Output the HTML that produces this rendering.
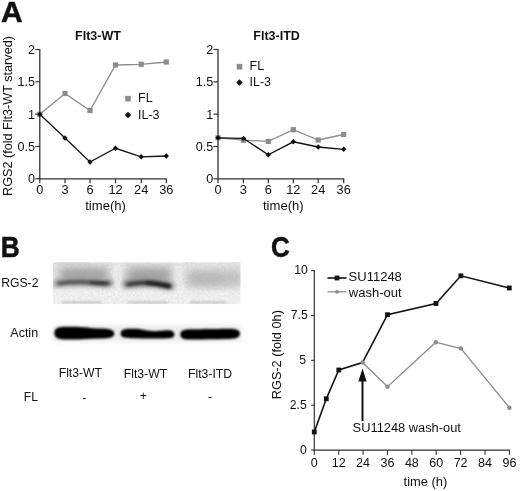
<!DOCTYPE html>
<html><head><meta charset="utf-8"><title>Figure</title>
<style>
html,body{margin:0;padding:0;background:#fff;}
body{width:520px;height:491px;overflow:hidden;}
svg{display:block;}
text{font-family:"Liberation Sans",Arial,Helvetica,sans-serif;fill:#111;}
.b{font-weight:bold;}
</style></head><body>
<svg width="520" height="491" viewBox="0 0 520 491">
<defs>
<filter id="f07" filterUnits="userSpaceOnUse" x="40" y="250" width="215" height="105"><feGaussianBlur stdDeviation="0.7"/></filter>
<filter id="f12" filterUnits="userSpaceOnUse" x="40" y="250" width="215" height="105"><feGaussianBlur stdDeviation="1.2"/></filter>
<filter id="f25" filterUnits="userSpaceOnUse" x="40" y="250" width="215" height="105"><feGaussianBlur stdDeviation="2.5"/></filter>
<filter id="f4" filterUnits="userSpaceOnUse" x="40" y="250" width="215" height="105"><feGaussianBlur stdDeviation="4"/></filter>
<filter id="f15" filterUnits="userSpaceOnUse" x="40" y="250" width="215" height="105"><feGaussianBlur stdDeviation="1.5"/></filter>
<filter id="noise" filterUnits="userSpaceOnUse" x="40" y="250" width="215" height="105"><feTurbulence type="fractalNoise" baseFrequency="0.45" numOctaves="2" seed="7" result="n"/><feColorMatrix type="matrix" values="0 0 0 0 0.25  0 0 0 0 0.25  0 0 0 0 0.25  0.9 0.9 0 0 -0.6"/><feGaussianBlur stdDeviation="0.6"/></filter>
<mask id="mk1" maskUnits="userSpaceOnUse" x="40" y="250" width="215" height="70"><rect x="53" y="262.3" width="187.5" height="41.8" fill="#fff" filter="url(#f07)"/></mask>
<linearGradient id="bg1" x1="0" y1="0" x2="0" y2="1">
<stop offset="0" stop-color="#e2e2e2"/><stop offset="0.06" stop-color="#e9e9e9"/><stop offset="0.5" stop-color="#e9e9e9"/><stop offset="0.68" stop-color="#f6f6f6"/><stop offset="0.93" stop-color="#f5f5f5"/><stop offset="1" stop-color="#ececec"/>
</linearGradient>
</defs>
<rect width="520" height="491" fill="#fff"/>

<text class="b" x="0.9" y="21.5" font-size="30" stroke="#111" stroke-width="0.5">A</text>
<text class="b" transform="translate(0.7,256.6) scale(0.905,1)" font-size="29" stroke="#111" stroke-width="0.5">B</text>
<text class="b" transform="translate(271.1,256.9) scale(0.88,1.02)" font-size="29.6" stroke="#111" stroke-width="0.5">C</text>
<path d="M39.8,49.0V178.8H166.8" fill="none" stroke="#333" stroke-width="1.3"/>
<path d="M35.3,178.80H39.8" stroke="#333" stroke-width="1.2"/>
<text x="35.099999999999994" y="183.30" font-size="12.6" text-anchor="end">0</text>
<path d="M35.3,146.48H39.8" stroke="#333" stroke-width="1.2"/>
<text x="35.099999999999994" y="150.98" font-size="12.6" text-anchor="end">0.5</text>
<path d="M35.3,114.15H39.8" stroke="#333" stroke-width="1.2"/>
<text x="35.099999999999994" y="118.65" font-size="12.6" text-anchor="end">1</text>
<path d="M35.3,81.83H39.8" stroke="#333" stroke-width="1.2"/>
<text x="35.099999999999994" y="86.33" font-size="12.6" text-anchor="end">1.5</text>
<path d="M35.3,49.50H39.8" stroke="#333" stroke-width="1.2"/>
<text x="35.099999999999994" y="54.00" font-size="12.6" text-anchor="end">2</text>
<path d="M39.8,178.8V183.3" stroke="#333" stroke-width="1.2"/>
<text x="39.8" y="194.30" font-size="12.8" text-anchor="middle">0</text>
<path d="M65,178.8V183.3" stroke="#333" stroke-width="1.2"/>
<text x="65" y="194.30" font-size="12.8" text-anchor="middle">3</text>
<path d="M90,178.8V183.3" stroke="#333" stroke-width="1.2"/>
<text x="90" y="194.30" font-size="12.8" text-anchor="middle">6</text>
<path d="M115.5,178.8V183.3" stroke="#333" stroke-width="1.2"/>
<text x="115.5" y="194.30" font-size="12.8" text-anchor="middle">12</text>
<path d="M141.2,178.8V183.3" stroke="#333" stroke-width="1.2"/>
<text x="141.2" y="194.30" font-size="12.8" text-anchor="middle">24</text>
<path d="M166.3,178.8V183.3" stroke="#333" stroke-width="1.2"/>
<text x="166.3" y="194.30" font-size="12.8" text-anchor="middle">36</text>
<text x="105.55" y="210.4" font-size="13.1" text-anchor="middle">time(h)</text>
<text class="b" x="98" y="39.5" font-size="12.5" text-anchor="middle">Flt3-WT</text>
<polyline points="39.8,114.3 65,93.5 90,110.5 115.5,65 141.2,64.3 166.3,62" fill="none" stroke="#8c8c8c" stroke-width="1.3"/>
<rect x="37.199999999999996" y="111.70" width="5.2" height="5.2" fill="#8c8c8c"/>
<rect x="62.4" y="90.90" width="5.2" height="5.2" fill="#8c8c8c"/>
<rect x="87.4" y="107.90" width="5.2" height="5.2" fill="#8c8c8c"/>
<rect x="112.9" y="62.40" width="5.2" height="5.2" fill="#8c8c8c"/>
<rect x="138.6" y="61.70" width="5.2" height="5.2" fill="#8c8c8c"/>
<rect x="163.70000000000002" y="59.40" width="5.2" height="5.2" fill="#8c8c8c"/>
<polyline points="39.8,114.3 65,138 90,162 115.5,148.3 141.2,156.8 166.3,156" fill="none" stroke="#111" stroke-width="1.3"/>
<path d="M39.8,111.60L42.5,114.3L39.8,117.00L37.099999999999994,114.3Z" fill="#111"/>
<path d="M65,135.30L67.7,138L65,140.70L62.3,138Z" fill="#111"/>
<path d="M90,159.30L92.7,162L90,164.70L87.3,162Z" fill="#111"/>
<path d="M115.5,145.60L118.2,148.3L115.5,151.00L112.8,148.3Z" fill="#111"/>
<path d="M141.2,154.10L143.89999999999998,156.8L141.2,159.50L138.5,156.8Z" fill="#111"/>
<path d="M166.3,153.30L169.0,156L166.3,158.70L163.60000000000002,156Z" fill="#111"/>
<rect x="125.2" y="95.90" width="5.6" height="5.6" fill="#8c8c8c"/>
<text x="138" y="102.10" font-size="12.5">FL</text>
<path d="M128,111.80L131.2,115L128,118.20L124.8,115Z" fill="#111"/>
<text x="138" y="118.90" font-size="12.5">IL-3</text>
<path d="M218,49.0V178.8H344.2" fill="none" stroke="#333" stroke-width="1.3"/>
<path d="M213.5,178.80H218" stroke="#333" stroke-width="1.2"/>
<text x="213.3" y="183.30" font-size="12.6" text-anchor="end">0</text>
<path d="M213.5,146.48H218" stroke="#333" stroke-width="1.2"/>
<text x="213.3" y="150.98" font-size="12.6" text-anchor="end">0.5</text>
<path d="M213.5,114.15H218" stroke="#333" stroke-width="1.2"/>
<text x="213.3" y="118.65" font-size="12.6" text-anchor="end">1</text>
<path d="M213.5,81.83H218" stroke="#333" stroke-width="1.2"/>
<text x="213.3" y="86.33" font-size="12.6" text-anchor="end">1.5</text>
<path d="M213.5,49.50H218" stroke="#333" stroke-width="1.2"/>
<text x="213.3" y="54.00" font-size="12.6" text-anchor="end">2</text>
<path d="M218,178.8V183.3" stroke="#333" stroke-width="1.2"/>
<text x="218" y="194.30" font-size="12.8" text-anchor="middle">0</text>
<path d="M243.4,178.8V183.3" stroke="#333" stroke-width="1.2"/>
<text x="243.4" y="194.30" font-size="12.8" text-anchor="middle">3</text>
<path d="M268.3,178.8V183.3" stroke="#333" stroke-width="1.2"/>
<text x="268.3" y="194.30" font-size="12.8" text-anchor="middle">6</text>
<path d="M293.3,178.8V183.3" stroke="#333" stroke-width="1.2"/>
<text x="293.3" y="194.30" font-size="12.8" text-anchor="middle">12</text>
<path d="M318.2,178.8V183.3" stroke="#333" stroke-width="1.2"/>
<text x="318.2" y="194.30" font-size="12.8" text-anchor="middle">24</text>
<path d="M343.7,178.8V183.3" stroke="#333" stroke-width="1.2"/>
<text x="343.7" y="194.30" font-size="12.8" text-anchor="middle">36</text>
<text x="283.35" y="210.4" font-size="13.1" text-anchor="middle">time(h)</text>
<text class="b" x="276.6" y="39.5" font-size="12.5" text-anchor="middle">Flt3-ITD</text>
<polyline points="218,137.8 243.4,140.2 268.3,141.4 293.3,129.7 318.2,140 343.7,134.5" fill="none" stroke="#8c8c8c" stroke-width="1.3"/>
<rect x="215.4" y="135.20" width="5.2" height="5.2" fill="#8c8c8c"/>
<rect x="240.8" y="137.60" width="5.2" height="5.2" fill="#8c8c8c"/>
<rect x="265.7" y="138.80" width="5.2" height="5.2" fill="#8c8c8c"/>
<rect x="290.7" y="127.10" width="5.2" height="5.2" fill="#8c8c8c"/>
<rect x="315.59999999999997" y="137.40" width="5.2" height="5.2" fill="#8c8c8c"/>
<rect x="341.09999999999997" y="131.90" width="5.2" height="5.2" fill="#8c8c8c"/>
<polyline points="218,137.8 243.4,138.4 268.3,154.8 293.3,141.8 318.2,147 343.7,149.3" fill="none" stroke="#111" stroke-width="1.3"/>
<path d="M218,135.10L220.7,137.8L218,140.50L215.3,137.8Z" fill="#111"/>
<path d="M243.4,135.70L246.1,138.4L243.4,141.10L240.70000000000002,138.4Z" fill="#111"/>
<path d="M268.3,152.10L271.0,154.8L268.3,157.50L265.6,154.8Z" fill="#111"/>
<path d="M293.3,139.10L296.0,141.8L293.3,144.50L290.6,141.8Z" fill="#111"/>
<path d="M318.2,144.30L320.9,147L318.2,149.70L315.5,147Z" fill="#111"/>
<path d="M343.7,146.60L346.4,149.3L343.7,152.00L341.0,149.3Z" fill="#111"/>
<rect x="236.7" y="63.90" width="5.6" height="5.6" fill="#8c8c8c"/>
<text x="249.5" y="70.10" font-size="12.5">FL</text>
<path d="M239.5,79.30L242.7,82.5L239.5,85.70L236.3,82.5Z" fill="#111"/>
<text x="249.5" y="86.40" font-size="12.5">IL-3</text>
<text transform="translate(12.1,196) rotate(-90)" font-size="12.65">RGS2 (fold Flt3-WT starved)</text>
<text x="1.2" y="287.2" font-size="12.2">RGS-2</text>
<text x="10.3" y="337.2" font-size="12.5">Actin</text>
<text x="58.7" y="377.2" font-size="12.2">Flt3-WT</text>
<text x="123.8" y="378.3" font-size="12.2">Flt3-WT</text>
<text x="188" y="378.3" font-size="12.2">Flt3-ITD</text>
<text x="23.8" y="400.6" font-size="12">FL</text>
<text x="82.3" y="401.5" font-size="12">-</text>
<text x="139.8" y="400" font-size="12">+</text>
<text x="208" y="400.6" font-size="12">-</text>
<g mask="url(#mk1)">
<rect x="50" y="259" width="194" height="48" fill="url(#bg1)"/>
<rect x="60" y="268" width="48" height="13" fill="#909090" opacity="0.8" filter="url(#f4)"/>
<rect x="127" y="268" width="44" height="14" fill="#909090" opacity="0.8" filter="url(#f4)"/>
<rect x="187" y="270" width="54" height="17" fill="#bdbdbd" opacity="0.85" filter="url(#f4)"/>
<rect x="190" y="274" width="30" height="10" fill="#b0b0b0" opacity="0.5" filter="url(#f4)"/>
<rect x="113.5" y="264" width="7" height="34" fill="#f6f6f6" opacity="0.9" filter="url(#f25)"/>
<rect x="175.5" y="264" width="6" height="34" fill="#f6f6f6" opacity="0.9" filter="url(#f25)"/>
<path d="M55,262.8H90" stroke="#c8c8c8" stroke-width="1.4" filter="url(#f12)"/>
<path d="M62,302.4H101M128,302.4H168M190,302.4H226" stroke="#bcbcbc" stroke-width="1.6" filter="url(#f12)"/>
<rect x="50" y="259" width="194" height="48" filter="url(#noise)" opacity="0.22"/>
<path d="M57,283.5 C70,281.4 84,281.6 96,282.8 S106,283.4 110,283.2" stroke="#808080" stroke-width="6.5" fill="none" stroke-linecap="round" filter="url(#f25)"/>
<path d="M59,283.4 C70,281.6 84,281.7 96,282.8 S104,283.3 108.5,283.1" stroke="#484848" stroke-width="2.8" fill="none" stroke-linecap="round" filter="url(#f15)"/>
<path d="M91,282.6 L106,283.3" stroke="#2c2c2c" stroke-width="2.4" fill="none" stroke-linecap="round" filter="url(#f15)"/>
<path d="M126.5,284.3 C136,282.6 150,282 160,284 S168,286 170.5,286.3" stroke="#787878" stroke-width="7.5" fill="none" stroke-linecap="round" filter="url(#f25)"/>
<path d="M128,284.3 C137,282.7 150,282.2 160,284.1 S167,286 169.5,286.2" stroke="#333" stroke-width="3.4" fill="none" stroke-linecap="round" filter="url(#f15)"/>
<path d="M148,283 C158,283.6 164,285.2 168.5,286.1" stroke="#1c1c1c" stroke-width="3.2" fill="none" stroke-linecap="round" filter="url(#f15)"/>
</g>
<g>
<rect x="53" y="325" width="188" height="17" fill="#ececec" filter="url(#f25)"/>
<path d="M54.3,333 C54.3,326.6 61,326.7 72,326.7 C84,326.7 92,328.3 101,328.5 C110,328.6 114.3,330 114.3,333.5 C114.3,337.4 110,338.3 100,338.6 C90,338.9 82,339.6 72,339.6 C61,339.6 54.3,339.4 54.3,333Z" fill="#040404" filter="url(#f12)"/>
<path d="M120.6,333.6 C120.6,328.7 126,328.8 134,328.8 C142,328.8 146,330.8 152,331.1 C158,331.3 162,330.3 167,330.3 C172,330.3 174.4,331.8 174.4,334.5 C174.4,337.7 171,338.4 165,338.4 C155,338.5 145,338.5 134,338.3 C126,338.2 120.6,338.3 120.6,333.6Z" fill="#060606" filter="url(#f12)"/>
<path d="M180.3,334.4 C180.3,329.2 186,329.2 195,329.2 C208,329.2 220,328.8 229,328.8 C236,328.8 240,330 240,333.6 C240,338.2 235,338.9 226,339.1 C214,339.4 204,339.5 194,339.5 C185,339.5 180.3,339.3 180.3,334.4Z" fill="#040404" filter="url(#f12)"/>
</g>
<path d="M314.3,270.10V450.1H509.90" fill="none" stroke="#333" stroke-width="1.2"/>
<path d="M311.1,450.10H314.3" stroke="#333" stroke-width="1.1"/>
<text x="306.90" y="453.90" font-size="12.2" text-anchor="end">0</text>
<path d="M311.1,405.23H314.3" stroke="#333" stroke-width="1.1"/>
<text x="306.80" y="409.03" font-size="12.2" text-anchor="end">2.5</text>
<path d="M311.1,360.35H314.3" stroke="#333" stroke-width="1.1"/>
<text x="306.10" y="364.15" font-size="12.2" text-anchor="end">5</text>
<path d="M311.1,315.48H314.3" stroke="#333" stroke-width="1.1"/>
<text x="307.70" y="319.28" font-size="12.2" text-anchor="end">7.5</text>
<path d="M311.1,270.60H314.3" stroke="#333" stroke-width="1.1"/>
<text x="307.70" y="274.40" font-size="12.2" text-anchor="end">10</text>
<path d="M314.30,450.1V454.8" stroke="#333" stroke-width="1.1"/>
<text x="314.30" y="467.00" font-size="12.5" text-anchor="middle">0</text>
<path d="M338.69,450.1V454.8" stroke="#333" stroke-width="1.1"/>
<text x="338.69" y="467.00" font-size="12.5" text-anchor="middle">12</text>
<path d="M363.07,450.1V454.8" stroke="#333" stroke-width="1.1"/>
<text x="363.07" y="467.00" font-size="12.5" text-anchor="middle">24</text>
<path d="M387.46,450.1V454.8" stroke="#333" stroke-width="1.1"/>
<text x="387.46" y="467.00" font-size="12.5" text-anchor="middle">36</text>
<path d="M411.85,450.1V454.8" stroke="#333" stroke-width="1.1"/>
<text x="411.85" y="467.00" font-size="12.5" text-anchor="middle">48</text>
<path d="M436.24,450.1V454.8" stroke="#333" stroke-width="1.1"/>
<text x="436.24" y="467.00" font-size="12.5" text-anchor="middle">60</text>
<path d="M460.62,450.1V454.8" stroke="#333" stroke-width="1.1"/>
<text x="460.62" y="467.00" font-size="12.5" text-anchor="middle">72</text>
<path d="M485.01,450.1V454.8" stroke="#333" stroke-width="1.1"/>
<text x="485.01" y="467.00" font-size="12.5" text-anchor="middle">84</text>
<path d="M509.40,450.1V454.8" stroke="#333" stroke-width="1.1"/>
<text x="509.40" y="467.00" font-size="12.5" text-anchor="middle">96</text>
<text x="425.4" y="485.8" font-size="12.9" text-anchor="middle">time (h)</text>
<text transform="translate(280.9,399.2) rotate(-90)" font-size="12.72">RGS-2 (fold 0h)</text>
<polyline points="362.5,362.5 387.5,386.7 435.8,342.2 461,348.5 509.4,407.7" fill="none" stroke="#8c8c8c" stroke-width="1.3"/>
<polyline points="314.3,432 326.3,398.8 338.8,370 362.5,362.5 387.5,314.7 436,303.5 460.9,275.8 509.3,288" fill="none" stroke="#111" stroke-width="1.6"/>
<rect x="311.90" y="429.60" width="4.8" height="4.8" fill="#111"/>
<rect x="323.90" y="396.40" width="4.8" height="4.8" fill="#111"/>
<rect x="336.40" y="367.60" width="4.8" height="4.8" fill="#111"/>
<rect x="385.10" y="312.30" width="4.8" height="4.8" fill="#111"/>
<rect x="433.60" y="301.10" width="4.8" height="4.8" fill="#111"/>
<rect x="458.50" y="273.40" width="4.8" height="4.8" fill="#111"/>
<rect x="506.90" y="285.60" width="4.8" height="4.8" fill="#111"/>
<circle cx="362.5" cy="362.5" r="2.2" fill="#8c8c8c"/>
<circle cx="387.5" cy="386.7" r="2.2" fill="#8c8c8c"/>
<circle cx="435.8" cy="342.2" r="2.2" fill="#8c8c8c"/>
<circle cx="461" cy="348.5" r="2.2" fill="#8c8c8c"/>
<circle cx="509.4" cy="407.7" r="2.2" fill="#8c8c8c"/>
<path d="M327.5,278H346.5" stroke="#111" stroke-width="1.6"/><rect x="334.6" y="275.6" width="4.8" height="4.8" fill="#111"/>
<text x="348.6" y="281.2" font-size="13">SU11248</text>
<path d="M327.5,291.8H346.5" stroke="#8c8c8c" stroke-width="1.3"/><circle cx="337" cy="291.8" r="1.9" fill="#8c8c8c"/>
<text x="348.8" y="296.5" font-size="13">wash-out</text>
<path d="M362.5,421V380" stroke="#111" stroke-width="2"/><path d="M362.5,368.5L366.6,381.5H358.4Z" fill="#111"/>
<text x="352.6" y="431.6" font-size="12.85">SU11248 wash-out</text>
</svg></body></html>
